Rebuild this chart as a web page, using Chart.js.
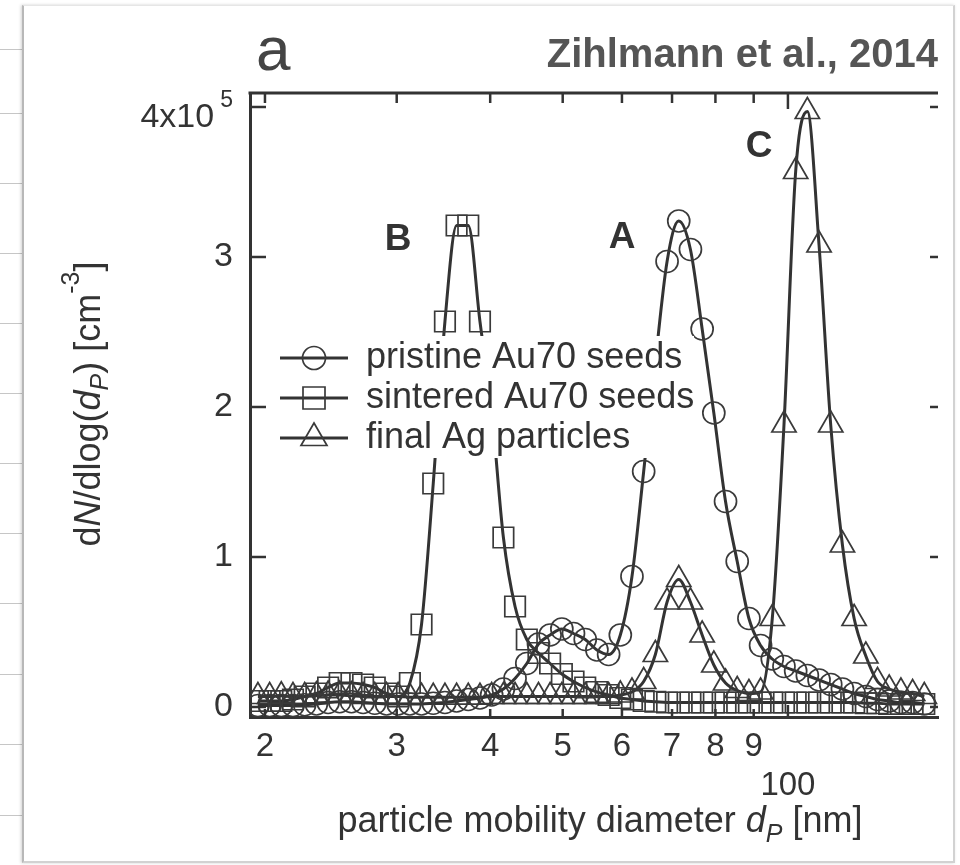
<!DOCTYPE html>
<html>
<head>
<meta charset="utf-8">
<script src="https://cdn.jsdelivr.net/npm/chart.js@4.4.1/dist/chart.umd.min.js"></script>
<style>
html,body{margin:0;padding:0;background:#fff;width:960px;height:865px;overflow:hidden;}
.sl{position:absolute;left:0;width:22px;height:1px;background:#c6c6c6;}
#card{position:absolute;left:22px;top:5px;width:929px;height:855px;background:#fff;
  border-left:2px solid #b8b8b8;border-top:1px solid #e6e6e6;border-right:2px solid #d2d2d2;border-bottom:2px solid #d2d2d2;
  box-shadow:-1px 0 3px rgba(0,0,0,0.18);}
#wrap{position:absolute;left:0;top:0;width:960px;height:865px;}
</style>
</head>
<body>
<div class="sl" style="top:49px"></div><div class="sl" style="top:113px"></div><div class="sl" style="top:183px"></div>
<div class="sl" style="top:253px"></div><div class="sl" style="top:323px"></div><div class="sl" style="top:393px"></div>
<div class="sl" style="top:463px"></div><div class="sl" style="top:533px"></div><div class="sl" style="top:603px"></div>
<div class="sl" style="top:674px"></div><div class="sl" style="top:744px"></div><div class="sl" style="top:815px"></div>
<div id="card"></div>
<div id="wrap"><canvas id="c"></canvas></div>
<script>
// ---------------- data ----------------
// particle mobility diameter, nm (SMPS channels)
const diameters = [19.57, 20.29, 21.03, 21.80, 22.60, 23.43, 24.29, 25.17, 26.10, 27.05,
  28.04, 29.07, 30.13, 31.24, 32.38, 33.57, 34.80, 36.07, 37.39, 38.76,
  40.18, 41.66, 43.18, 44.77, 46.41, 48.10, 49.87, 51.69, 53.59, 55.55,
  57.59, 59.70, 61.88, 64.15, 66.50, 68.94, 71.46, 74.08, 76.80, 79.61,
  82.53, 85.55, 88.69, 91.93, 95.30, 98.79, 102.41, 106.16, 110.05, 114.08,
  118.26, 122.60, 127.09, 131.74, 136.57, 141.58, 146.76, 152.14];
// dN/dlog(dP) in units of 1e5 cm^-3
const pristine = [0.01, 0.01, 0.01, 0.01, 0.015, 0.02, 0.03, 0.035, 0.035, 0.03,
  0.025, 0.02, 0.02, 0.02, 0.02, 0.025, 0.03, 0.04, 0.05, 0.06,
  0.08, 0.12, 0.19, 0.29, 0.42, 0.48, 0.52, 0.49, 0.45, 0.38,
  0.35, 0.48, 0.87, 1.57, 2.30, 2.97, 3.24, 3.05, 2.52, 1.96,
  1.37, 0.97, 0.59, 0.41, 0.32, 0.27, 0.24, 0.21, 0.18, 0.15,
  0.12, 0.09, 0.07, 0.05, 0.04, 0.03, 0.03, 0.02];
const sintered = [0.04, 0.04, 0.04, 0.05, 0.07, 0.09, 0.13, 0.16, 0.16, 0.15,
  0.13, 0.09, 0.07, 0.16, 0.55, 1.49, 2.57, 3.21, 3.21, 2.57,
  1.98, 1.13, 0.67, 0.45, 0.36, 0.29, 0.22, 0.17, 0.13, 0.10,
  0.08, 0.06, 0.05, 0.04, 0.035, 0.03, 0.03, 0.03, 0.03, 0.03,
  0.03, 0.03, 0.03, 0.03, 0.03, 0.03, 0.03, 0.03, 0.03, 0.03,
  0.03, 0.03, 0.025, 0.025, 0.02, 0.02, 0.02, 0.02];
const finalAg = [0.07, 0.07, 0.075, 0.07, 0.07, 0.075, 0.08, 0.08, 0.075, 0.07,
  0.07, 0.07, 0.07, 0.065, 0.065, 0.065, 0.065, 0.065, 0.065, 0.065,
  0.07, 0.07, 0.07, 0.07, 0.07, 0.07, 0.07, 0.07, 0.07, 0.07,
  0.07, 0.08, 0.10, 0.17, 0.35, 0.70, 0.85, 0.70, 0.48, 0.28,
  0.16, 0.11, 0.09, 0.10, 0.59, 1.88, 3.57, 3.97, 3.08, 1.88,
  1.08, 0.59, 0.34, 0.17, 0.12, 0.10, 0.09, 0.07];
const seriesLabels = ['pristine Au70 seeds', 'sintered Au70 seeds', 'final Ag particles'];
const xTickValues = [20, 30, 40, 50, 60, 70, 80, 90, 100];
const xTickLabels = ['2', '3', '4', '5', '6', '7', '8', '9', '100'];
const yTickValues = [0, 1, 2, 3, 4];
const yTickLabels = ['0', '1', '2', '3', '4x10'];
const yTopExponent = '5';
const peakLabels = ['A', 'B', 'C'];

// ---------------- styling ----------------
const INK = '#333';
const FONT = "'Liberation Sans', Arial, Helvetica, sans-serif";
Chart.defaults.font.family = FONT;
Chart.defaults.color = INK;

const series = [pristine, sintered, finalAg];
const markerStyles = [
  {pointStyle: 'circle', pointRadius: 11},
  {pointStyle: 'rect', pointRadius: 14.5},
  {pointStyle: 'triangle', pointRadius: 14}
];

function makeIcon(kind) {
  const c = document.createElement('canvas');
  c.width = 68; c.height = 36;
  const g = c.getContext('2d');
  g.strokeStyle = INK; g.lineWidth = 3;
  g.beginPath(); g.moveTo(0, 18); g.lineTo(68, 18); g.stroke();
  g.strokeStyle = '#3a3a3a'; g.lineWidth = 1.7;
  g.beginPath();
  if (kind === 'circle') g.arc(34, 18, 11.5, 0, Math.PI * 2);
  else if (kind === 'rect') g.rect(23, 7, 22, 22);
  else { g.moveTo(34, 3); g.lineTo(47, 25.5); g.lineTo(21, 25.5); g.closePath(); }
  g.stroke();
  return c;
}
const icons = markerStyles.map(s => makeIcon(s.pointStyle));

const LEGEND_BOX = {left: 276, top: 336, width: 418, height: 122};

function drawRuns(ctx, runs, cx, baseY) {
  let total = 0;
  runs.forEach(r => { ctx.font = r.f; r.w = ctx.measureText(r.t).width; total += r.w; });
  let xx = cx - total / 2;
  runs.forEach(r => { ctx.font = r.f; ctx.fillText(r.t, xx, baseY + (r.dy || 0)); xx += r.w; });
}

const decor = {
  id: 'decor',
  afterInit(chart) {
    const lg = chart.legend;
    if (!lg) return;
    lg._layers = () => [{
      z: 10,
      draw: (ca) => {
        const c = chart.ctx;
        c.save(); c.fillStyle = '#fff';
        c.fillRect(LEGEND_BOX.left, LEGEND_BOX.top, LEGEND_BOX.width, LEGEND_BOX.height);
        c.restore();
        lg.draw(ca);
      }
    }];
  },
  afterLayout(chart) {
    const lg = chart.legend;
    if (!lg) return;
    lg.left = LEGEND_BOX.left; lg.top = LEGEND_BOX.top;
    lg.width = 460; lg.height = 200;
    lg.right = lg.left + lg.width; lg.bottom = lg.top + lg.height;
  },
  afterDraw(chart) {
    const {ctx, chartArea: a, scales: {x, y}} = chart;
    ctx.save();
    ctx.strokeStyle = INK; ctx.lineCap = 'butt';
    const line = (x1, y1, x2, y2) => { ctx.beginPath(); ctx.moveTo(x1, y1); ctx.lineTo(x2, y2); ctx.stroke(); };
    // top frame line
    ctx.lineWidth = 3;
    line(a.left - 1.5, a.top, a.right, a.top);
    // ticks (inward)
    ctx.lineWidth = 2.5;
    yTickValues.forEach(v => {
      const py = y.getPixelForValue(v);
      line(a.left, py, a.left + 16, py);
      line(a.right - 8, py, a.right, py);
    });
    xTickValues.forEach(v => {
      const px = x.getPixelForValue(v);
      const major = v >= 100;
      line(px, a.bottom, px, a.bottom - (major ? 12 : 8));
      line(px, a.top, px, a.top + (major ? 16 : 10));
    });
    ctx.fillStyle = INK;
    ctx.textBaseline = 'alphabetic';
    // exponent of the top y label
    ctx.font = `23px ${FONT}`;
    ctx.textAlign = 'right';
    ctx.fillText(yTopExponent, y.right - 17, y.getPixelForValue(4));
    ctx.textAlign = 'left';
    // x axis title
    drawRuns(ctx, [
      {t: 'particle mobility diameter ', f: `36px ${FONT}`},
      {t: 'd', f: `italic 36px ${FONT}`},
      {t: 'P', f: `italic 25px ${FONT}`, dy: 10},
      {t: ' [nm]', f: `36px ${FONT}`}
    ], 600, 832);
    // y axis title
    ctx.save();
    ctx.translate(100, 404);
    ctx.rotate(-Math.PI / 2);
    drawRuns(ctx, [
      {t: 'd', f: `36px ${FONT}`},
      {t: 'N', f: `italic 36px ${FONT}`},
      {t: '/dlog(', f: `36px ${FONT}`},
      {t: 'd', f: `italic 36px ${FONT}`},
      {t: 'P', f: `italic 25px ${FONT}`, dy: 8},
      {t: ') [cm', f: `36px ${FONT}`},
      {t: '-3', f: `25px ${FONT}`, dy: -21},
      {t: ']', f: `36px ${FONT}`}
    ], 0, 0);
    ctx.restore();
    // panel letter and citation
    ctx.fillStyle = '#444';
    ctx.font = `62px ${FONT}`;
    ctx.fillText('a', 256, 70);
    ctx.fillStyle = '#555';
    ctx.font = `bold 40px ${FONT}`;
    ctx.textAlign = 'right';
    ctx.fillText('Zihlmann et al., 2014', 938, 67);
    // peak labels
    ctx.fillStyle = INK;
    ctx.font = `bold 37px ${FONT}`;
    ctx.textAlign = 'center';
    ctx.fillText(peakLabels[0], 622, 248);
    ctx.fillText(peakLabels[1], 398, 250);
    ctx.fillText(peakLabels[2], 759, 157);
    ctx.restore();
  }
};

new Chart(document.getElementById('c'), {
  type: 'line',
  data: {
    datasets: series.map((vals, i) => ({
      label: seriesLabels[i],
      data: diameters.map((d, j) => ({x: d, y: vals[j]})),
      borderColor: INK,
      borderWidth: 3,
      tension: 0.4,
      cubicInterpolationMode: 'monotone',
      fill: false,
      pointStyle: markerStyles[i].pointStyle,
      pointRadius: markerStyles[i].pointRadius,
      pointHoverRadius: markerStyles[i].pointRadius,
      pointBorderColor: '#3a3a3a',
      pointBorderWidth: 1.7,
      pointBackgroundColor: 'rgba(0,0,0,0)'
    }))
  },
  options: {
    responsive: true,
    maintainAspectRatio: false,
    animation: false,
    events: [],
    layout: {padding: {left: 0, top: 93, right: 22, bottom: 0}},
    plugins: {
      tooltip: {enabled: false},
      legend: {
        display: true,
        position: 'chartArea',
        align: 'start',
        labels: {
          usePointStyle: true,
          pointStyleWidth: 68,
          padding: 4,
          color: INK,
          font: {size: 36, family: FONT},
          generateLabels: (chart) => chart.data.datasets.map((ds, i) => ({
            text: ds.label, pointStyle: icons[i], fillStyle: 'rgba(0,0,0,0)',
            strokeStyle: 'rgba(0,0,0,0)', lineWidth: 0, hidden: false, datasetIndex: i, fontColor: INK
          }))
        }
      }
    },
    scales: {
      x: {
        type: 'logarithmic',
        min: 19.1,
        max: 158.7,
        afterFit: (s) => { s.height = 148; },
        afterBuildTicks: (s) => { s.ticks = xTickValues.map(v => ({value: v})); },
        ticks: {
          autoSkip: false, maxRotation: 0, minRotation: 0, padding: 10, color: INK,
          font: {size: 33},
          callback: (v, i) => (xTickValues[i] >= 100 ? ['', xTickLabels[i]] : xTickLabels[i])
        },
        grid: {display: true, drawOnChartArea: false, drawTicks: false},
        border: {display: true, color: INK, width: 3}
      },
      y: {
        type: 'linear',
        min: -0.0667,
        max: 4.0933,
        afterFit: (s) => { s.width = 250; },
        afterBuildTicks: (s) => { s.ticks = yTickValues.map(v => ({value: v})); },
        ticks: {
          padding: 17, color: INK,
          font: (c) => (c.index === yTickLabels.length - 1 ? {size: 34, lineHeight: 0.6} : {size: 34}),
          callback: (v, i) => (i === yTickLabels.length - 1 ? ['', yTickLabels[i] + '  '] : yTickLabels[i])
        },
        grid: {display: true, drawOnChartArea: false, drawTicks: false},
        border: {display: true, color: INK, width: 3}
      }
    }
  },
  plugins: [decor]
});
</script>
</body>
</html>
